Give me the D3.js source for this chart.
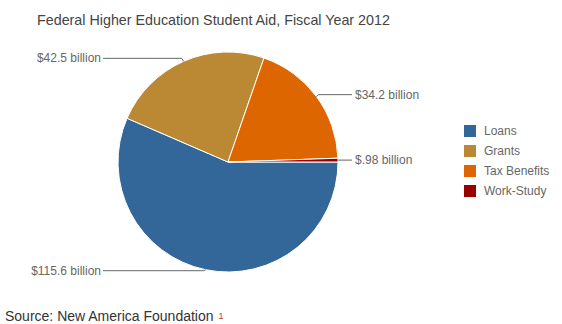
<!DOCTYPE html>
<html>
<head>
<meta charset="utf-8">
<script src="https://cdn.jsdelivr.net/npm/d3@7"></script>
<style>
  body { margin: 0; background: #fff; }
  text { font-family: Arial, "Liberation Sans", sans-serif; }
</style>
</head>
<body>
<div id="chart"></div>
<script>
// data (slice sizes, labels as printed)
const categories = ['Loans', 'Grants', 'Tax Benefits', 'Work-Study'];
const values = [100.9, 42.5, 34.2, 0.98];
const labels = ['$115.6 billion', '$42.5 billion', '$34.2 billion', '$.98 billion'];
const colors = ['#336699', '#bb8833', '#dd6600', '#990000'];

const w = 562, h = 324;
const cx = 228, cy = 162, r = 110;

const svg = d3.select('#chart').append('svg')
  .attr('width', w)
  .attr('height', h);

// title
svg.append('text')
  .attr('x', 37).attr('y', 25)
  .style('font-size', '14.3px')
  .style('fill', '#444')
  .text('Federal Higher Education Student Aid, Fiscal Year 2012');

const pie = d3.pie().sort(null).value(d => d)
  .startAngle(Math.PI / 2).endAngle(Math.PI / 2 + 2 * Math.PI);
const arcs = pie(values);
const arc = d3.arc().innerRadius(0).outerRadius(r);

const g = svg.append('g').attr('transform', `translate(${cx},${cy})`);

g.selectAll('path')
  .data(arcs)
  .enter()
  .append('path')
  .attr('d', arc)
  .style('fill', (d, i) => colors[i])
  .style('stroke', '#fff')
  .style('stroke-width', 1);

// leader lines + labels
arcs.forEach((d, i) => {
  const a = (d.startAngle + d.endAngle) / 2;
  const px = cx + r * Math.sin(a), py = cy - r * Math.cos(a);
  const onLeft = Math.sin(a) < 0;
  let ly = py;
  if (i === 0) ly = py + 1;
  if (i === 1) ly = py - 3;
  if (i === 2) ly = py - 2;
  const endX = onLeft ? px - 2 : px + 2;
  const tx = onLeft ? 103 : 352;
  svg.append('polyline')
    .attr('points', `${px},${py} ${endX},${ly} ${tx},${ly}`)
    .style('fill', 'none')
    .style('stroke', '#666')
    .style('stroke-width', 1);
  svg.append('text')
    .attr('x', onLeft ? tx - 2 : tx + 3)
    .attr('y', ly + 4)
    .attr('text-anchor', onLeft ? 'end' : 'start')
    .style('font-size', '12px')
    .style('fill', '#666')
    .text(labels[i]);
});

// legend
const legend = svg.append('g').attr('transform', 'translate(464,125)');
categories.forEach((c, i) => {
  legend.append('rect')
    .attr('x', 0).attr('y', i * 20)
    .attr('width', 12).attr('height', 12)
    .style('fill', colors[i]);
  legend.append('text')
    .attr('x', 20).attr('y', i * 20 + 10)
    .style('font-size', '12px')
    .style('fill', '#666')
    .text(c);
});

// source
const src = svg.append('text')
  .attr('x', 5).attr('y', 321)
  .style('font-size', '14px')
  .style('fill', '#333')
  .text('Source: New America Foundation');
src.append('tspan')
  .attr('dx', 5).attr('dy', -2)
  .style('font-size', '9px')
  .style('fill', '#cc3333')
  .text('1');
</script>
</body>
</html>
